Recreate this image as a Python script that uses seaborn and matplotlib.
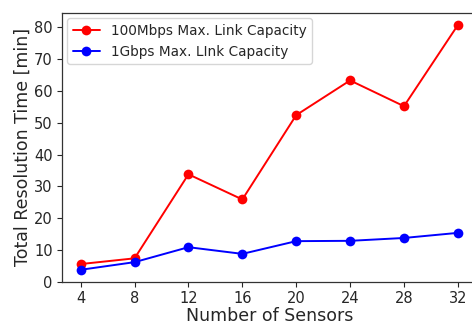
import pandas as pd
import matplotlib
matplotlib.use("Agg")
import matplotlib.pyplot as plt
import seaborn as sns

# values
sensors = [4, 8, 12, 16, 20, 24, 28, 32]
time_100mbps = [5.6, 7.4, 33.8, 25.9, 52.4, 63.3, 55.2, 80.7]
time_1gbps = [3.8, 6.2, 10.9, 8.8, 12.8, 12.9, 13.8, 15.4]
labels = ["100Mbps Max. Link Capacity", "1Gbps Max. LInk Capacity"]

df = pd.DataFrame({
    "Sensors": sensors * 2,
    "Time": time_100mbps + time_1gbps,
    "Setup": [labels[0]] * len(sensors) + [labels[1]] * len(sensors),
})

sns.set_style("ticks")
plt.rcParams["font.family"] = ["DejaVu Sans"]

fig = plt.figure(figsize=(4.72, 3.24), dpi=100)
ax = fig.add_axes([0.131, 0.130, 0.879, 0.830])

sns.lineplot(data=df, x="Sensors", y="Time", hue="Setup",
             palette=["red", "blue"], marker="o", markersize=7,
             markeredgewidth=0, linewidth=1.4, ax=ax)

ax.set_xticks(sensors)
ax.set_xlim(2.6, 33.4)
ax.set_ylim(0, 84.5)
ax.tick_params(labelsize=10.5, length=3.5, width=0.8, pad=3)
for s in ax.spines.values():
    s.set_linewidth(0.9)
    s.set_color("#333333")
ax.set_xlabel("Number of Sensors", fontsize=12.5, labelpad=1)
ax.set_ylabel("Total Resolution Time [min]", fontsize=12.5, labelpad=2)
ax.legend(title=None, fontsize=9.8, loc="upper left", frameon=True,
          handlelength=2, borderaxespad=0.4)

fig.savefig("out.png", dpi=100)
